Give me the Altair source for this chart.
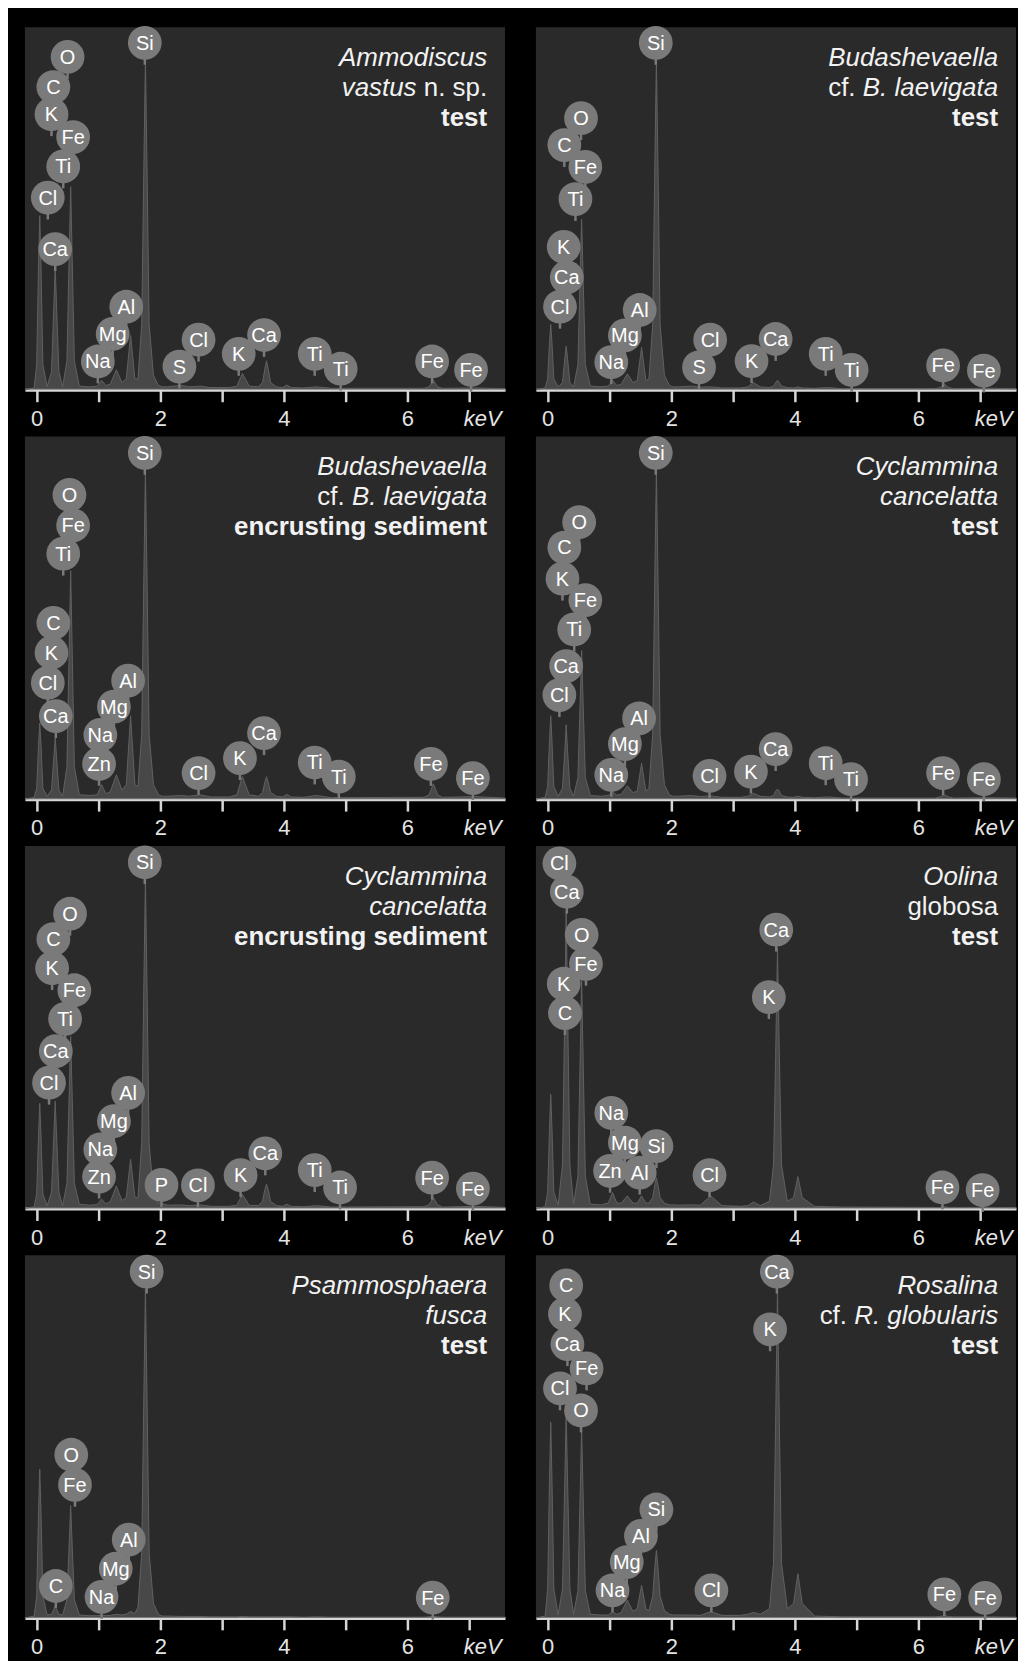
import altair as alt
import pandas as pd

FONT = "Liberation Sans"
W, H = 482, 364
XDOM = [-0.19, 7.58]

BG = "#2a2a2a"
SPEC_FILL = "#555555"
SPEC_LINE = "#616161"
CIRC = "#7a7a7a"
AXC = "#d6d6d6"
TCOL = "#f2f2f2"
TBASE = [39, 69, 99]

# shared energy grid of the spectra (keV)
spec_kev = [-0.19, -0.04, 0.00, 0.03, 0.05, 0.07, 0.10, 0.17,
            0.24, 0.28, 0.30, 0.32, 0.36, 0.42,
            0.49, 0.53, 0.55, 0.57, 0.61, 0.69,
            0.86, 0.98, 1.05, 1.12, 1.19, 1.29, 1.38, 1.45, 1.52, 1.59,
            1.64, 1.70, 1.735, 1.76, 1.785, 1.82, 1.89, 1.97,
            2.03, 2.12, 2.33, 2.47, 2.64, 2.82, 3.12, 3.24, 3.33, 3.44,
            3.59, 3.655, 3.69, 3.72, 3.75, 3.785, 3.88, 3.98, 4.05, 4.12,
            4.32, 4.53, 4.77, 6.27, 6.35, 6.42, 6.49, 6.57, 7.08, 7.58]

# counts (% of full scale)
amm_cts = [0, 0.5, 7, 34, 48, 34, 7, 0.8,
           5, 24, 34, 24, 5, 0.8,
           8, 40, 56, 40, 8, 1,
           0.8, 1, 2.6, 1.2, 1.5, 5.5, 2, 3, 15, 3,
           3, 18, 62, 91, 62, 18, 4, 1.2,
           0.8, 0.8, 1.2, 0.8, 1.0, 0.6, 0.6, 1.0, 4.5, 1.0,
           0.8, 2, 5.5, 8, 5.5, 2, 0.8, 0.6, 1.3, 0.6,
           0.5, 0.8, 0.4, 0.4, 0.8, 2.6, 0.8, 0.4, 0.5, 0.3]
budt_cts = [0, 0.5, 3, 13, 18, 13, 3, 0.8,
            2, 9, 12, 9, 2, 0.8,
            7, 34, 47, 34, 7, 1,
            0.8, 1, 2.6, 1.2, 1.5, 4.4, 2, 2.5, 11.7, 2.5,
            3, 18, 62, 91, 62, 18, 4, 1.2,
            0.8, 0.8, 1.0, 0.7, 0.8, 0.5, 0.5, 0.8, 2, 0.8,
            0.6, 1.0, 2.0, 2.6, 2.0, 1.0, 0.6, 0.5, 0.8, 0.5,
            0.4, 0.6, 0.3, 0.3, 0.6, 1.6, 0.6, 0.3, 0.4, 0.3]
buds_cts = [0, 0.5, 3, 15, 21, 15, 3, 0.8,
            2.5, 12, 17, 12, 2.5, 0.8,
            9, 45, 63, 45, 9, 1.2,
            1, 1.2, 4, 1.5, 2, 6.7, 2.5, 4, 23, 4,
            3.5, 18, 62, 90.6, 62, 18, 4, 1.2,
            0.8, 0.8, 1.0, 0.8, 1.2, 0.6, 0.6, 1.2, 6.2, 1.2,
            0.8, 1.8, 4.5, 6.2, 4.5, 1.8, 0.8, 0.6, 1.3, 0.6,
            0.5, 1, 0.4, 0.5, 1.2, 4.2, 1.2, 0.5, 0.7, 0.3]
cyct_cts = [0, 0.5, 3.5, 16, 23, 16, 3.5, 0.8,
            3, 14, 20.5, 14, 3, 0.8,
            6, 29, 41, 29, 6, 1,
            0.8, 1, 2, 1.1, 1.3, 3.7, 1.8, 2.2, 9.9, 2.2,
            3, 18, 62, 90.6, 62, 18, 4, 1.2,
            0.8, 0.8, 1.0, 0.7, 0.9, 0.5, 0.5, 0.8, 1.6, 0.8,
            0.6, 1.0, 2.2, 2.8, 2.2, 1.0, 0.6, 0.5, 0.8, 0.5,
            0.4, 0.6, 0.3, 0.3, 0.6, 1.2, 0.6, 0.3, 0.4, 0.3]
cycs_cts = [0, 0.5, 4, 20, 29, 20, 4, 0.8,
            4.5, 21, 29.6, 21, 4.5, 0.8,
            7, 34, 47.5, 34, 7, 1.2,
            0.9, 1.1, 2.6, 1.3, 1.8, 6.2, 2.2, 3, 13.6, 3,
            3, 18, 62, 90.6, 62, 18, 4, 1.5,
            1.4, 0.9, 1.0, 0.8, 1.0, 0.6, 0.6, 0.9, 3.9, 0.9,
            0.8, 2, 5, 6.7, 5, 2, 0.8, 0.6, 1.2, 0.6,
            0.5, 0.8, 0.4, 0.5, 1, 3, 1, 0.4, 0.6, 0.3]
ool_cts = [0, 0.5, 4.5, 22, 31.5, 22, 4.5, 1,
           12, 58, 82, 58, 12, 1.2,
           9, 45, 63, 45, 9, 1.2,
           1, 1.5, 4.4, 1.5, 1.5, 3.5, 1.5, 1.5, 3.5, 1.5,
           1.5, 3, 6.5, 8.5, 6.5, 3, 1.5, 1,
           1, 0.9, 1, 0.9, 3.5, 0.8, 0.6, 0.8, 1.8, 0.8,
           2, 12, 42, 71.8, 42, 12, 2, 3, 8.8, 3,
           0.6, 0.5, 0.4, 0.3, 0.3, 0.5, 0.3, 0.3, 0.3, 0.2]
psa_cts = [0, 0.5, 6, 29, 41, 29, 6, 0.8,
           1, 2.5, 3.5, 2.5, 1, 0.8,
           5, 22, 31, 22, 5, 0.8,
           0.6, 0.6, 0.8, 0.6, 0.7, 1, 0.8, 1, 1.8, 1.2,
           3, 18, 62, 90.6, 62, 18, 4, 1,
           0.5, 0.5, 0.4, 0.4, 0.4, 0.3, 0.3, 0.3, 0.4, 0.3,
           0.3, 0.3, 0.3, 0.3, 0.3, 0.3, 0.3, 0.3, 0.3, 0.3,
           0.2, 0.3, 0.2, 0.2, 0.3, 0.4, 0.3, 0.2, 0.2, 0.2]
ros_cts = [0, 0.5, 8, 38, 54, 38, 8, 0.8,
           8, 40, 56, 40, 8, 1,
           7.5, 37, 52, 37, 7.5, 1,
           0.8, 0.8, 1.7, 1, 1.5, 4.9, 1.8, 2.5, 9, 2.5,
           2, 6, 14, 18.6, 14, 6, 2, 1,
           0.8, 0.8, 0.8, 0.7, 1.7, 0.7, 0.7, 1, 1.5, 1,
           2.5, 15, 54, 90.6, 54, 15, 2.5, 4, 12.2, 4,
           0.5, 0.4, 0.3, 0.3, 0.4, 0.6, 0.4, 0.3, 0.3, 0.2]

# element labels: name, energy of the pointer, height of the circle centre
amm_el = ["O", "C", "K", "Fe", "Ti", "Cl", "Ca", "Si", "Al", "Mg", "Na", "S", "Cl", "K", "Ca", "Ti", "Ti", "Fe", "Fe"]
amm_lx = [0.50, 0.27, 0.24, 0.59, 0.43, 0.18, 0.30, 1.75, 1.45, 1.23, 0.99, 2.31, 2.62, 3.27, 3.68, 4.50, 4.92, 6.40, 7.03]
amm_ly = [91.8, 83.5, 76.0, 69.7, 61.6, 53.0, 38.8, 95.7, 22.9, 15.4, 7.8, 6.4, 13.8, 9.9, 15.1, 9.9, 5.8, 7.8, 5.5]

budt_el = ["Si", "O", "C", "Fe", "Ti", "K", "Ca", "Cl", "Al", "Mg", "Na", "Cl", "S", "K", "Ca", "Ti", "Ti", "Fe", "Fe"]
budt_lx = [1.75, 0.54, 0.27, 0.61, 0.45, 0.26, 0.31, 0.20, 1.49, 1.25, 1.03, 2.63, 2.45, 3.30, 3.69, 4.50, 4.92, 6.40, 7.06]
budt_ly = [95.7, 74.9, 67.5, 61.5, 52.6, 39.4, 31.0, 22.9, 22.0, 15.0, 7.6, 13.8, 6.2, 7.9, 14.0, 9.9, 5.5, 6.7, 5.3]

buds_el = ["Si", "O", "Fe", "Ti", "C", "K", "Cl", "Ca", "Al", "Mg", "Na", "Zn", "Cl", "K", "Ca", "Ti", "Ti", "Fe", "Fe"]
buds_lx = [1.75, 0.53, 0.59, 0.43, 0.27, 0.24, 0.18, 0.31, 1.48, 1.25, 1.03, 1.01, 2.62, 3.29, 3.68, 4.50, 4.89, 6.38, 7.06]
buds_ly = [95.5, 83.9, 75.5, 67.7, 48.6, 40.4, 32.1, 22.9, 32.7, 25.5, 17.7, 9.7, 7.2, 11.3, 18.2, 10.1, 6.2, 9.7, 5.8]

cyct_el = ["Si", "O", "C", "K", "Fe", "Ti", "Ca", "Cl", "Al", "Mg", "Na", "Cl", "K", "Ca", "Ti", "Ti", "Fe", "Fe"]
cyct_lx = [1.75, 0.51, 0.27, 0.24, 0.61, 0.43, 0.30, 0.19, 1.48, 1.25, 1.03, 2.62, 3.29, 3.69, 4.50, 4.91, 6.40, 7.06]
cyct_ly = [95.5, 76.4, 69.4, 60.8, 54.9, 46.8, 36.7, 28.7, 22.3, 15.2, 6.7, 6.4, 7.6, 13.8, 9.9, 5.5, 7.2, 5.5]

cycs_el = ["Si", "O", "C", "K", "Fe", "Ti", "Ca", "Cl", "Al", "Mg", "Na", "Zn", "P", "Cl", "K", "Ca", "Ti", "Ti", "Fe", "Fe"]
cycs_lx = [1.75, 0.54, 0.27, 0.25, 0.61, 0.46, 0.31, 0.20, 1.48, 1.25, 1.03, 1.01, 2.02, 2.61, 3.30, 3.70, 4.50, 4.91, 6.40, 7.06]
cycs_ly = [95.5, 81.3, 74.3, 66.3, 60.2, 52.3, 43.4, 34.7, 31.9, 24.1, 16.3, 8.8, 6.5, 6.4, 9.2, 15.2, 10.6, 5.8, 8.5, 5.5]

ool_el = ["Cl", "Ca", "O", "Fe", "K", "C", "Ca", "K", "Na", "Mg", "Si", "Zn", "Al", "Cl", "Fe", "Fe"]
ool_lx = [0.19, 0.31, 0.55, 0.62, 0.26, 0.28, 3.70, 3.58, 1.03, 1.25, 1.76, 1.01, 1.49, 2.62, 6.39, 7.04]
ool_ly = [95.2, 87.4, 75.5, 67.5, 62.0, 53.9, 76.9, 58.3, 26.4, 18.2, 17.2, 10.4, 9.9, 9.2, 5.8, 5.1]

psa_el = ["Si", "O", "Fe", "Al", "Mg", "C", "Na", "Fe"]
psa_lx = [1.78, 0.56, 0.62, 1.49, 1.28, 0.31, 1.05, 6.41]
psa_ly = [95.5, 45.0, 36.7, 21.6, 13.6, 8.8, 5.8, 5.6]

ros_el = ["Ca", "K", "C", "K", "Ca", "Fe", "Cl", "O", "Si", "Al", "Mg", "Na", "Cl", "Fe", "Fe"]
ros_lx = [3.71, 3.60, 0.30, 0.28, 0.32, 0.63, 0.20, 0.54, 1.76, 1.51, 1.28, 1.05, 2.65, 6.42, 7.08]
ros_ly = [95.5, 79.6, 91.7, 83.8, 75.5, 68.8, 63.3, 57.2, 29.9, 22.6, 15.4, 7.6, 7.6, 6.5, 5.5]

# panel captions: lines of (text, style) segments
amm_title = [[("Ammodiscus", "italic")], [("vastus", "italic"), ("n. sp.", "normal")], [("test", "bold")]]
budt_title = [[("Budashevaella", "italic")], [("cf.", "normal"), ("B. laevigata", "italic")], [("test", "bold")]]
buds_title = [[("Budashevaella", "italic")], [("cf.", "normal"), ("B. laevigata", "italic")], [("encrusting sediment", "bold")]]
cyct_title = [[("Cyclammina", "italic")], [("cancelatta", "italic")], [("test", "bold")]]
cycs_title = [[("Cyclammina", "italic")], [("cancelatta", "italic")], [("encrusting sediment", "bold")]]
ool_title = [[("Oolina", "italic")], [("globosa", "normal")], [("test", "bold")]]
psa_title = [[("Psammosphaera", "italic")], [("fusca", "italic")], [("test", "bold")]]
ros_title = [[("Rosalina", "italic")], [("cf.", "normal"), ("R. globularis", "italic")], [("test", "bold")]]

# Arial-metric glyph widths (1/1000 em) for placing mixed-style caption pieces
AR = {" ": 278, ".": 278, "a": 556, "b": 556, "c": 500, "d": 556, "e": 556, "f": 278, "g": 556,
      "h": 556, "i": 222, "l": 222, "m": 833, "n": 556, "o": 556, "p": 556, "r": 333, "s": 500,
      "t": 278, "u": 556, "v": 500, "B": 667, "R": 722}
TFS = 26

STYLE = {"italic": dict(fontStyle="italic", fontWeight="normal"),
         "normal": dict(fontStyle="normal", fontWeight="normal"),
         "bold": dict(fontStyle="normal", fontWeight="bold")}


def text_w(s):
    return sum(AR.get(c, 556) for c in s) * TFS / 1000.0


xaxis = alt.Axis(
    values=[0, 1, 2, 3, 4, 5, 6, 7],
    labelExpr="datum.value == 7 ? 'keV' : (datum.value % 2 == 0 ? datum.label : '')",
    labelFontStyle={"condition": {"test": "datum.value == 7", "value": "italic"}, "value": "normal"},
    labelOffset={"condition": {"test": "datum.value == 7", "value": 13}, "value": 0},
    labelFont=FONT, labelFontSize=22, labelColor="#e4e4e4", labelPadding=7,
    labelOverlap=False, labelFlush=False, labelBound=False,
    tickSize=12, tickWidth=2.5, tickColor=AXC,
    domainColor=AXC, domainWidth=3, grid=False, title="",
)


def panel(cts, el, lx, ly, title):
    xs = alt.Scale(domain=XDOM, nice=False, zero=False)
    ys = alt.Scale(domain=[0, 100], nice=False)
    X = alt.X("kev:Q", scale=xs, axis=xaxis)
    Y = alt.Y("cts:Q", scale=ys, axis=None)
    spec = pd.DataFrame({"kev": spec_kev, "cts": cts})
    lab = pd.DataFrame({"el": el, "kev": lx, "cts": ly})
    area = alt.Chart(spec).mark_area(
        color=SPEC_FILL, line={"color": SPEC_LINE, "strokeWidth": 1}
    ).encode(x=X, y=Y)
    stems = alt.Chart(lab).mark_rule(color=CIRC, strokeWidth=2.5, y2Offset=22).encode(
        x=X, y=Y, y2=alt.Y2("cts:Q"))
    circ = alt.Chart(lab).mark_circle(color=CIRC, opacity=1, size=1150).encode(x=X, y=Y)
    txt = alt.Chart(lab).mark_text(color="white", font=FONT, fontSize=20,
                                   baseline="middle", dy=1).encode(x=X, y=Y, text="el:N")
    layers = [area, stems, circ, txt]
    for i, line in enumerate(title):
        xr = W - 18
        for seg, sty in reversed(line):
            layers.append(
                alt.Chart(pd.DataFrame({"t": [seg]})).mark_text(
                    align="right", baseline="alphabetic", font=FONT, fontSize=TFS,
                    color=TCOL, **STYLE[sty]
                ).encode(x=alt.value(xr), y=alt.value(TBASE[i]), text="t:N")
            )
            xr -= text_w(seg) + text_w(" ")
    return alt.layer(*layers).properties(width=W, height=H)


panels = [
    panel(amm_cts, amm_el, amm_lx, amm_ly, amm_title),
    panel(budt_cts, budt_el, budt_lx, budt_ly, budt_title),
    panel(buds_cts, buds_el, buds_lx, buds_ly, buds_title),
    panel(cyct_cts, cyct_el, cyct_lx, cyct_ly, cyct_title),
    panel(cycs_cts, cycs_el, cycs_lx, cycs_ly, cycs_title),
    panel(ool_cts, ool_el, ool_lx, ool_ly, ool_title),
    panel(psa_cts, psa_el, psa_lx, psa_ly, psa_title),
    panel(ros_cts, ros_el, ros_lx, ros_ly, ros_title),
]

chart = alt.concat(
    *panels, columns=2, spacing={"row": 47, "column": 31}, bounds="flush"
).properties(
    background="black",
    padding={"left": 15, "top": 14, "right": 0, "bottom": 0},
).configure(font=FONT).configure_view(fill=BG, strokeWidth=0)

chart.save("out.html", embed_options={"renderer": "svg", "actions": False})
